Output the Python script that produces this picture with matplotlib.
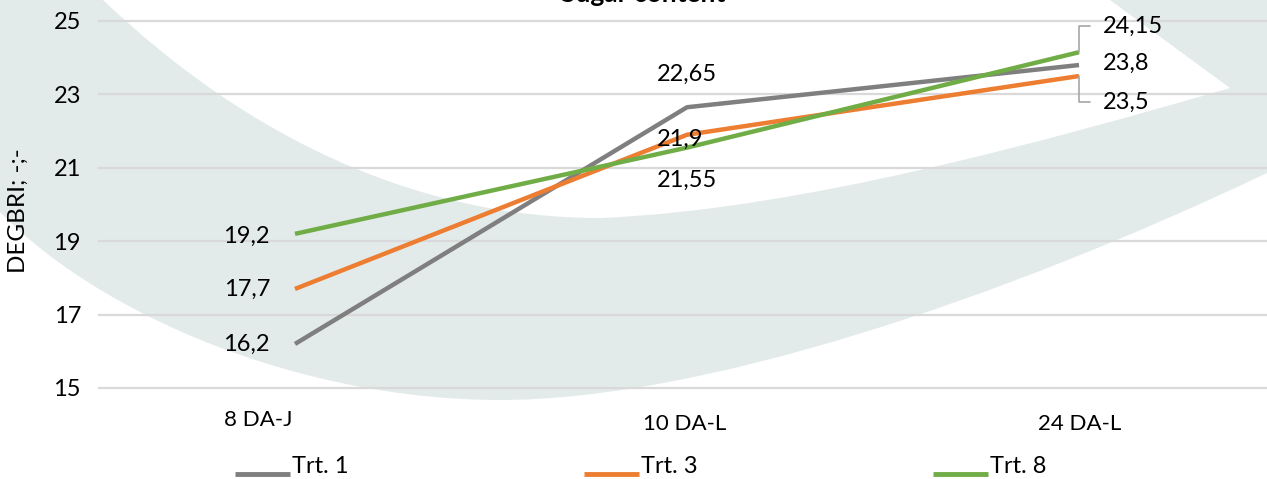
"""
Sugar content (DEGBRI) of three treatments at three sampling dates.
Line chart with data labels and a light watermark swoosh behind it.
"""
import matplotlib.pyplot as plt
from matplotlib.path import Path
from matplotlib.patches import PathPatch
from matplotlib.lines import Line2D

categories = ['8 DA-J', '10 DA-L', '24 DA-L']
series_names = ['Trt. 1', 'Trt. 3', 'Trt. 8']
trt1 = [16.2, 22.65, 23.8]
trt3 = [17.7, 21.9, 23.5]
trt8 = [19.2, 21.55, 24.15]
y_ticks = [15, 17, 19, 21, 23, 25]

colors = ['#7F7F7F', '#ED7D31', '#70AD47']
W, H = 1267, 479

# label offsets in pixels from each point (dx, dy, ha)
label_offsets = {
    'Trt. 1': [(-25, 0, 'right'), (0, 33, 'center'), (24, 2, 'left')],
    'Trt. 3': [(-25, 0, 'right'), (-7, -5, 'center'), (24, -26, 'left')],
    'Trt. 8': [(-25, -2, 'right'), (0, -33, 'center'), (24, 26, 'left')],
}
cat_offsets = [(-37, -32), (-2, -36), (1, -36)]

plt.rcParams['font.family'] = ['Lato', 'DejaVu Sans']


def fmt(v):
    return f'{v:g}'.replace('.', ',')


def fig_xy(x, y):
    # pixel position (y measured from the top) -> figure fraction
    return (x / W, 1 - y / H)


fig = plt.figure(figsize=(W / 100, H / 100), dpi=100)

# background swoosh (pixel coordinates of the decoration, not data)
verts = [(0, 0), (103, 0),
         (250, 140), (420, 218), (600, 218),
         (800, 210), (1050, 140), (1230, 88),
         (1110, 0), (1267, 0), (1267, 173),
         (1000, 300), (700, 400), (500, 400),
         (300, 400), (100, 315), (0, 212),
         (0, 0)]
codes = [Path.MOVETO, Path.LINETO,
         Path.CURVE4, Path.CURVE4, Path.CURVE4,
         Path.CURVE4, Path.CURVE4, Path.CURVE4,
         Path.LINETO, Path.LINETO, Path.LINETO,
         Path.CURVE4, Path.CURVE4, Path.CURVE4,
         Path.CURVE4, Path.CURVE4, Path.CURVE4,
         Path.CLOSEPOLY]
swoosh = PathPatch(Path([fig_xy(x, y) for x, y in verts], codes),
                   transform=fig.transFigure, facecolor='#E3EBEA',
                   edgecolor='none', zorder=-5)
fig.add_artist(swoosh)

ax = fig.add_axes([99 / W, 91 / H, 1176 / W, 367 / H])
ax.set_facecolor('none')

xs = list(range(len(categories)))
for name, vals, color in zip(series_names, [trt1, trt3, trt8], colors):
    ax.plot(xs, vals, color=color, lw=3.2, solid_capstyle='butt', zorder=3)
    for x, v, (dx, dy, ha) in zip(xs, vals, label_offsets[name]):
        arrow = None
        if ha == 'left' and abs(dy) > 10:
            arrow = dict(arrowstyle='-', color='#A6A6A6', lw=1.2,
                         connectionstyle='angle,angleA=0,angleB=90,rad=0',
                         relpos=(0, 0.5), shrinkA=7, shrinkB=0)
        ax.annotate(fmt(v), xy=(x, v), xytext=(dx, dy),
                    textcoords='offset pixels', ha=ha, va='center',
                    fontsize=17, color='black', zorder=5,
                    arrowprops=arrow)

ax.set_xlim(-0.5, 2.5)
ax.set_ylim(15, 25)
ax.set_yticks(y_ticks)
ax.set_yticklabels([str(t) for t in y_ticks], fontsize=17)
ax.set_xticks(xs)
ax.set_xticklabels([])
ax.tick_params(axis='both', length=0)
ax.tick_params(axis='y', pad=13)
ax.yaxis.grid(True, color='#D9D9D9', lw=1.6)
ax.set_axisbelow(True)
for gl in ax.get_ygridlines():
    gl.set_clip_on(False)
for s in ax.spines.values():
    s.set_visible(False)

for x, cat, (dx, dy) in zip(xs, categories, cat_offsets):
    ax.annotate(cat, xy=(x, 0), xycoords=('data', 'axes fraction'),
                xytext=(dx, dy), textcoords='offset pixels',
                ha='center', va='center', fontsize=16)

fig.text(*fig_xy(18, 211), 'DEGBRI; -;-', rotation=90, ha='center',
         va='center', fontsize=17.5)
fig.text(*fig_xy(643, 2), 'Sugar content', ha='center', va='baseline',
         fontsize=19, fontweight='bold')

# legend along the bottom
legend_x = [235, 584, 933]
for lx, name, color in zip(legend_x, series_names, colors):
    (x0, y0), (x1, _) = fig_xy(lx, 474), fig_xy(lx + 55, 474)
    fig.add_artist(Line2D([x0, x1], [y0, y0], transform=fig.transFigure,
                          color=color, lw=3.5, solid_capstyle='butt'))
    fig.text(*fig_xy(lx + 57, 473), name, ha='left', va='baseline',
             fontsize=17)

fig.savefig('out.png', dpi=100)
